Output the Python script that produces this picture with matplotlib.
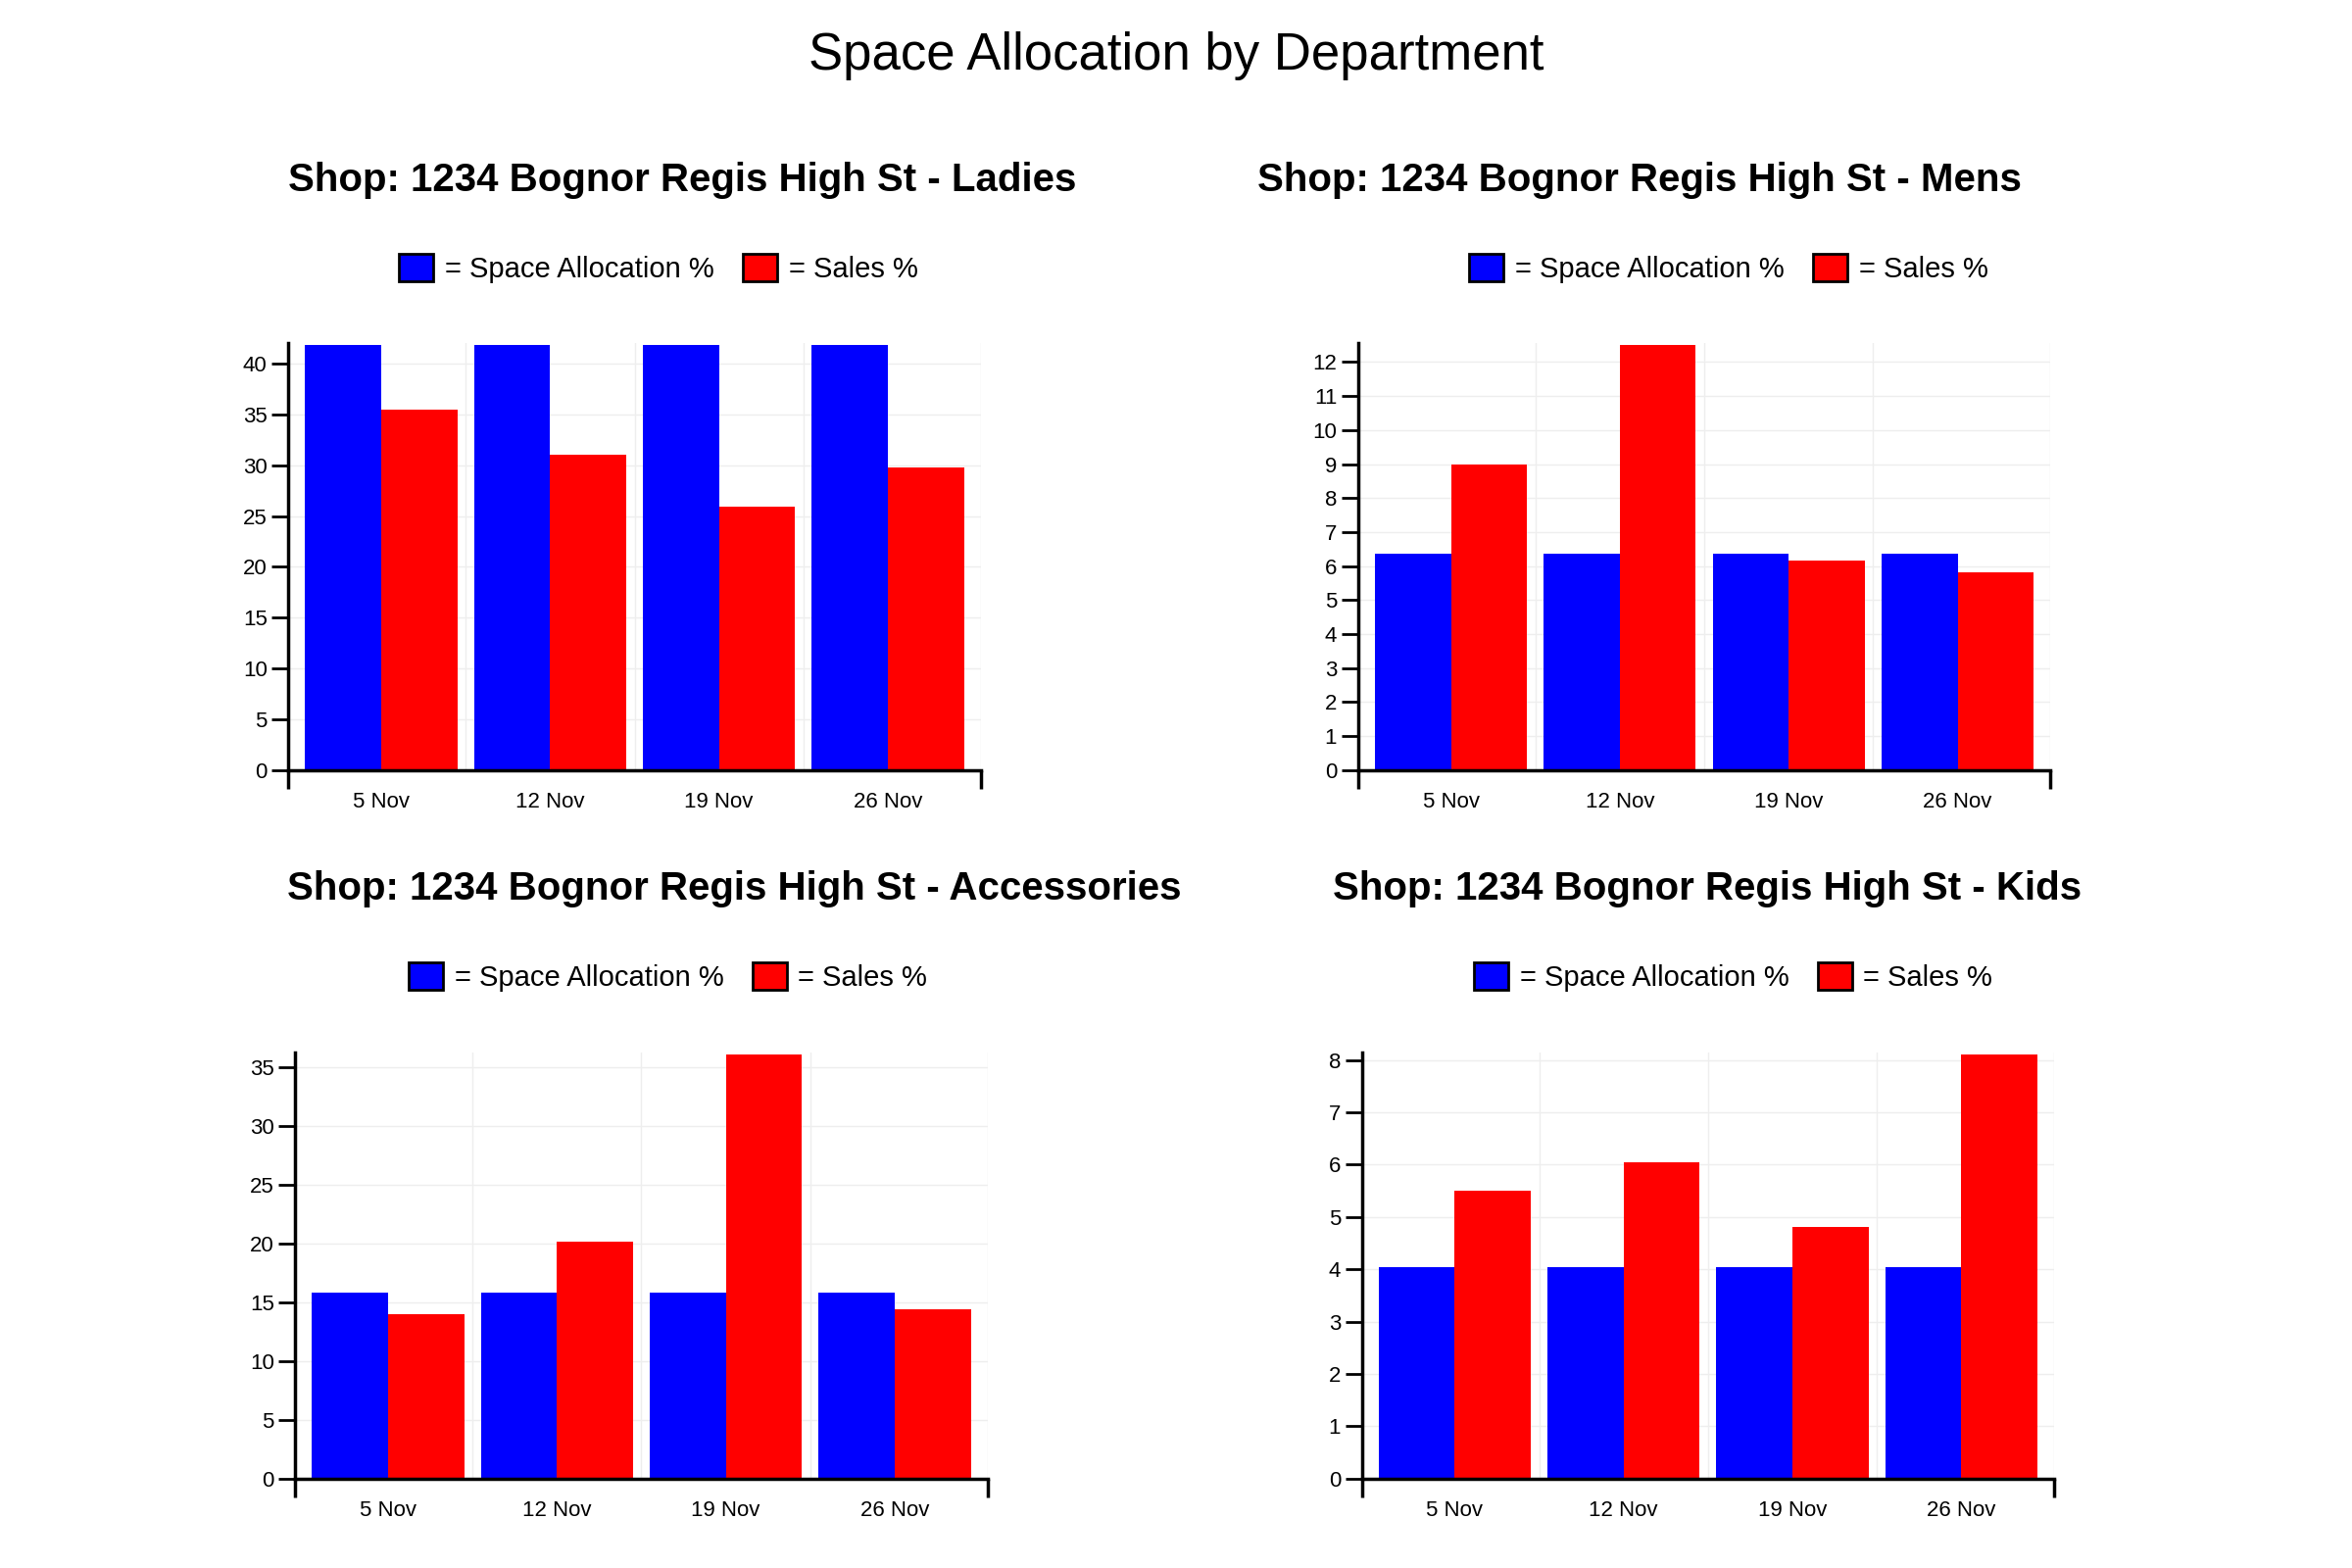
import matplotlib.pyplot as plt
from matplotlib.patches import Patch
import numpy as np

plt.rcParams['font.family'] = ['Liberation Sans', 'DejaVu Sans']

weeks = ['5 Nov', '12 Nov', '19 Nov', '26 Nov']
depts = ['Ladies', 'Mens', 'Accessories', 'Kids']
space = [[41.8] * 4, [6.35] * 4, [15.8] * 4, [4.05] * 4]
sales = [[35.5, 31.0, 25.9, 29.8],
         [9.0, 12.5, 6.15, 5.8],
         [14.0, 20.2, 36.1, 14.4],
         [5.5, 6.05, 4.8, 8.1]]
ymax = [42, 12.55, 36.3, 8.15]
ystep = [5, 1, 5, 1]

fig = plt.figure(figsize=(24, 16), dpi=100)
fig.suptitle('Space Allocation by Department', fontsize=38, y=0.98)

rects = [[0.1226, 0.509, 0.2944, 0.272], [0.5774, 0.509, 0.2944, 0.272],
         [0.1255, 0.057, 0.2944, 0.272], [0.579, 0.057, 0.2944, 0.272]]
title_pos = [(0.29, 0.885), (0.697, 0.885), (0.312, 0.433), (0.726, 0.433)]
leg_pos = [(0.28, 0.829), (0.735, 0.829), (0.284, 0.377), (0.737, 0.377)]

x = np.arange(4)
w = 0.45
for i in range(4):
    ax = fig.add_axes(rects[i])
    ax.bar(x - w / 2, space[i], w, color='#0000ff', zorder=2)
    ax.bar(x + w / 2, sales[i], w, color='#ff0000', zorder=2)
    ax.set_xlim(-0.55, 3.55)
    ax.set_ylim(0, ymax[i])
    ax.set_yticks(np.arange(0, ymax[i] + 0.01, ystep[i]))
    ax.set_xticks(x)
    ax.set_xticklabels(weeks)
    ax.set_xticks([-0.55, 3.55], minor=True)
    for b in [0.5, 1.5, 2.5, 3.55]:
        ax.axvline(b, color='#eeeeee', lw=1, zorder=0)
    ax.tick_params(axis='x', which='major', length=0, pad=16, labelsize=16)
    ax.tick_params(axis='x', which='minor', length=14, width=2.5)
    ax.tick_params(axis='y', length=12, width=2, labelsize=16)
    ax.grid(True, which='major', axis='y', color='#eeeeee', lw=1, zorder=0)
    for s in ['top', 'right']:
        ax.spines[s].set_visible(False)
    for s in ['left', 'bottom']:
        ax.spines[s].set_linewidth(2.5)
    fig.text(*title_pos[i], 'Shop: 1234 Bognor Regis High St - ' + depts[i],
             ha='center', va='center', fontsize=29, fontweight='bold')
    handles = [Patch(facecolor='#0000ff', edgecolor='black', lw=2),
               Patch(facecolor='#ff0000', edgecolor='black', lw=2)]
    fig.legend(handles, ['= Space Allocation %', '= Sales %'], loc='center',
               bbox_to_anchor=leg_pos[i], ncol=2, frameon=False, fontsize=21,
               handlelength=1.2, handleheight=1.1, handletextpad=0.4,
               columnspacing=1.0)

fig.savefig('out.png', dpi=100, facecolor='white')
